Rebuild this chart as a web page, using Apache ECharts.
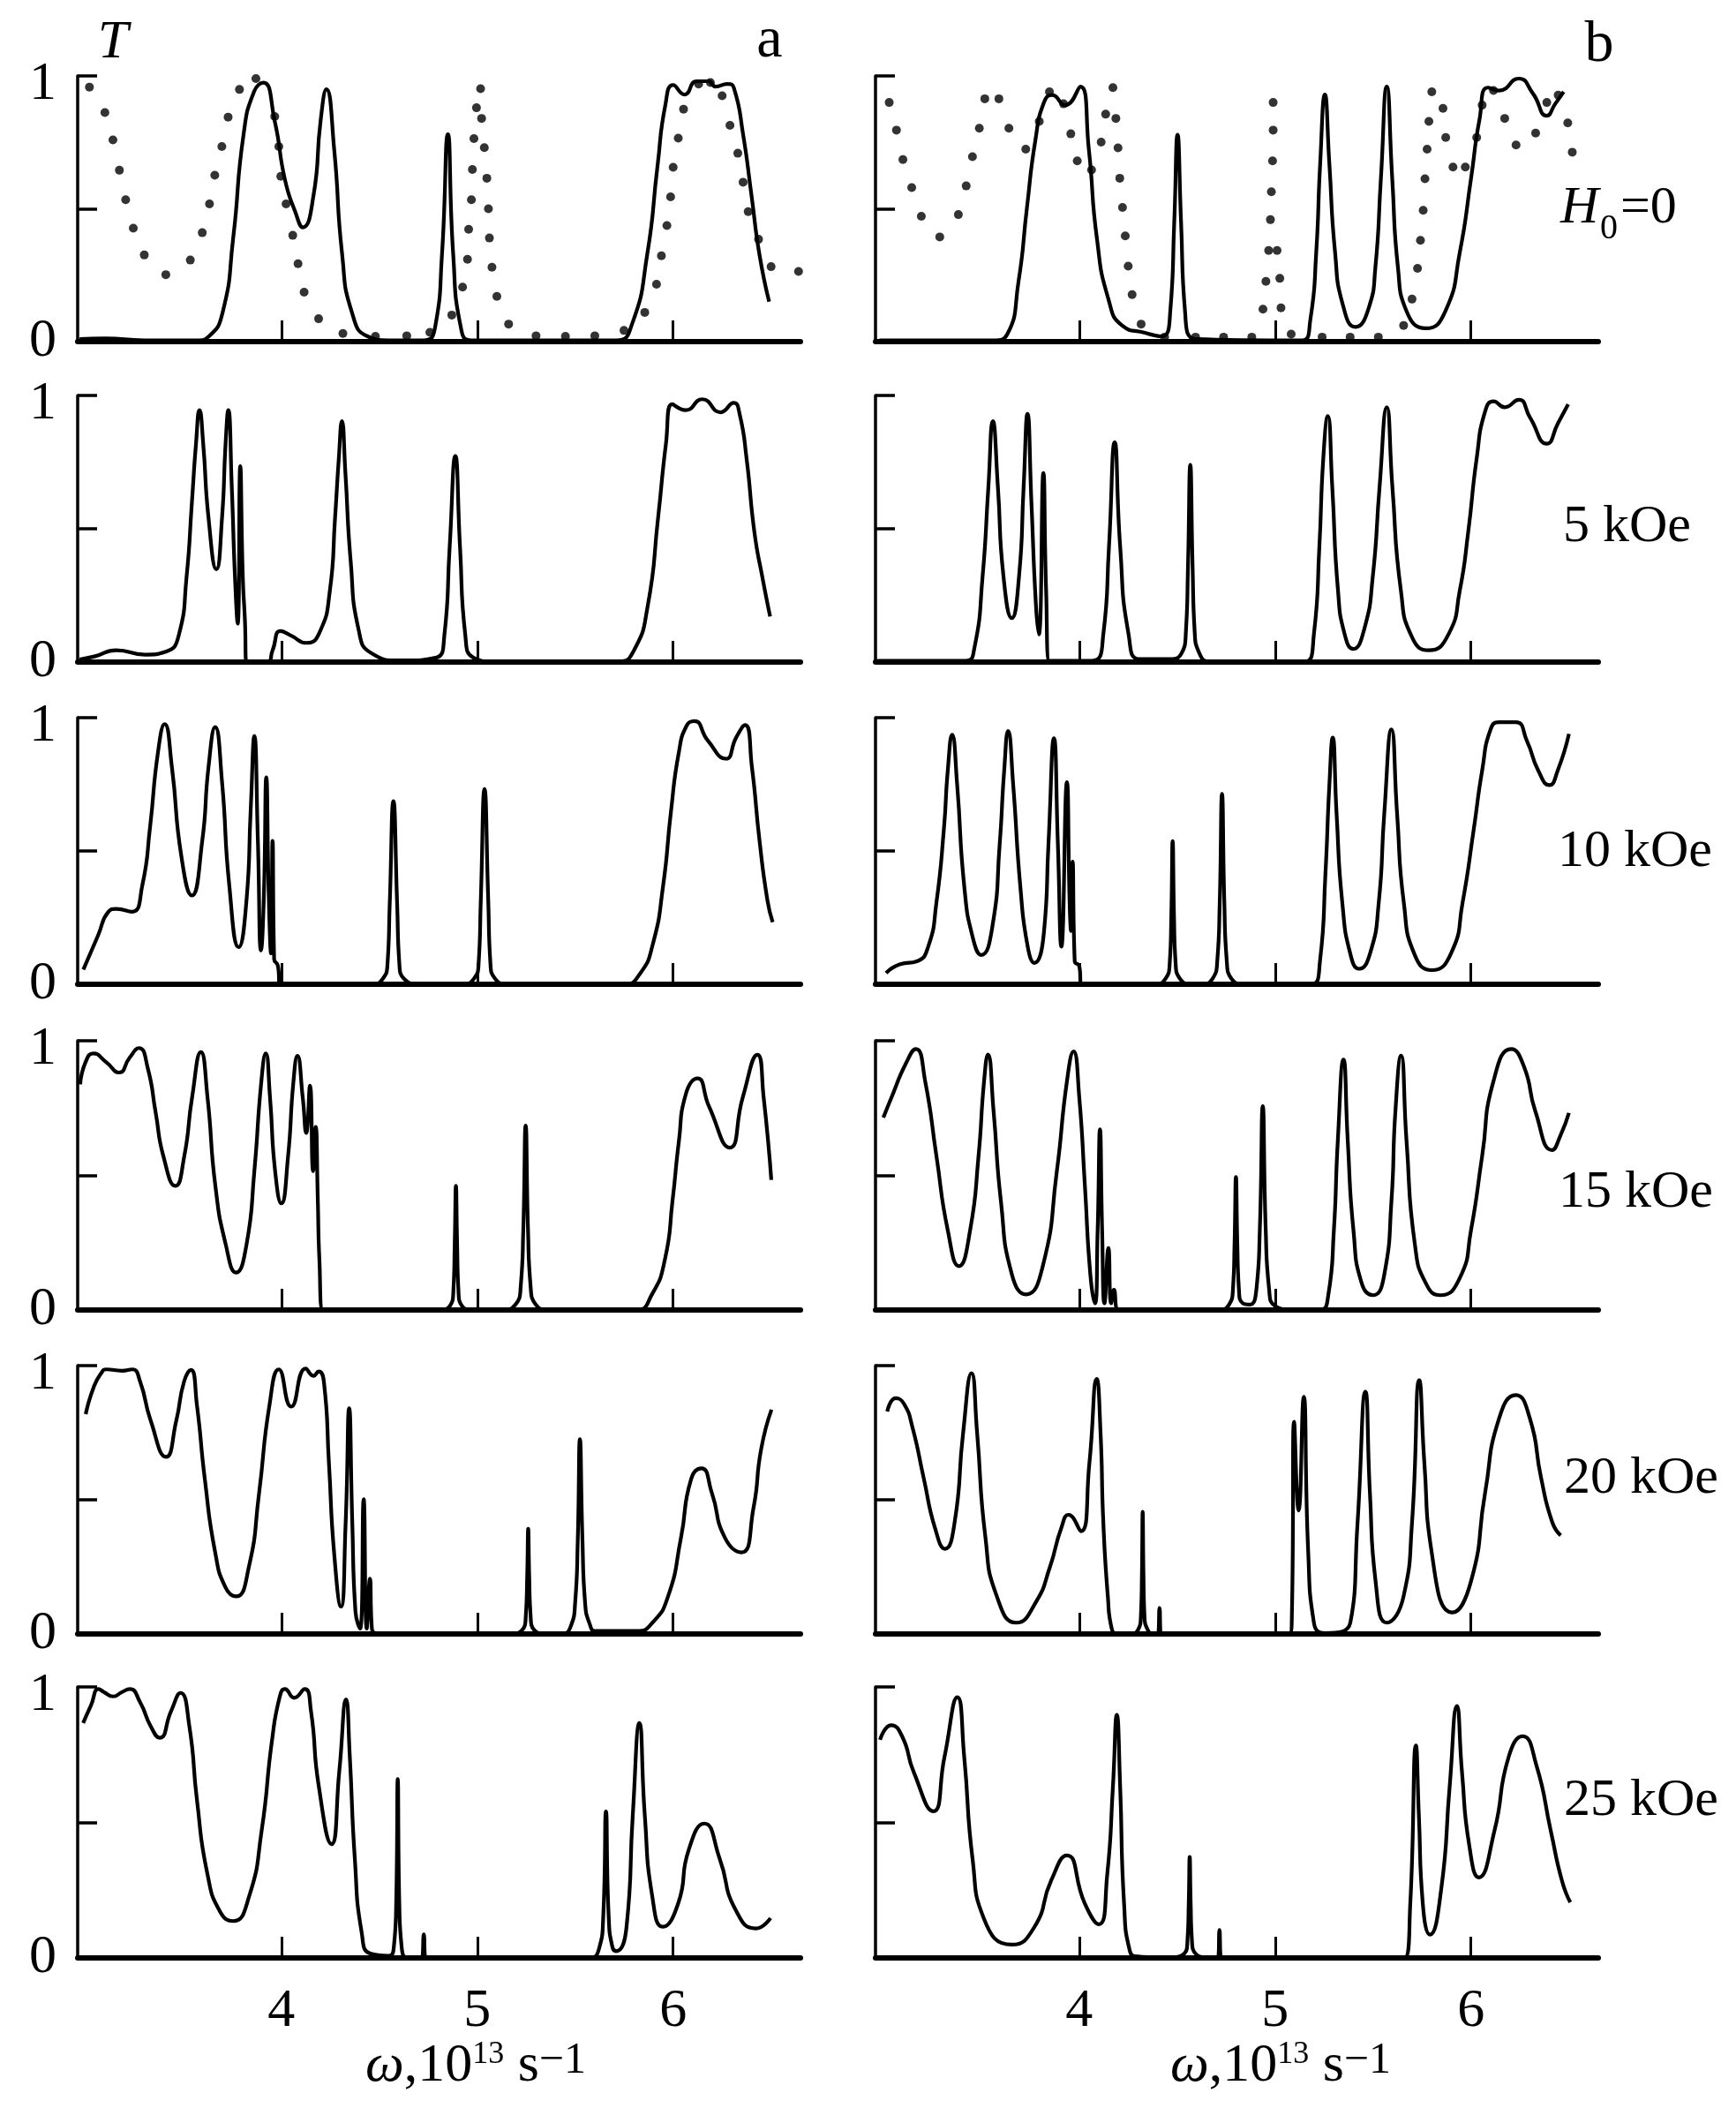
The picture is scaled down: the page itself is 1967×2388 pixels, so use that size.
<!DOCTYPE html>
<html>
<head>
<meta charset="utf-8">
<title>Transmission spectra T(omega)</title>
<script src="https://cdn.jsdelivr.net/npm/echarts@6/dist/echarts.min.js"></script>
<style>
  html, body { margin: 0; padding: 0; background: #fff; }
  #chart { width: 1967px; height: 2388px; }
</style>
</head>
<body>
<div id="chart"></div>
<script>
// omega (10^13 s^-1) vs transmission T
const fieldLabels = ['5 kOe', '10 kOe', '15 kOe', '20 kOe', '25 kOe'];
const xTicks = [4, 5, 6];
const yTicks = [0.5, 1];
const yTickLabels = [0, 1];

// column a, H0 = 0
const a0 = [[2.97,0.01],[3.1,0.012],[3.3,0.005],[3.57,0.005],[3.63,0.02],[3.70,0.11],[3.754,0.39],[3.807,0.78],[3.86,0.94],[3.908,0.975],[3.966,0.83],[4.018,0.61],[4.07,0.49],[4.11,0.43],[4.164,0.55],[4.20,0.83],[4.23,0.95],[4.27,0.72],[4.31,0.33],[4.36,0.11],[4.44,0.02],[4.55,0.005],[4.73,0.005],[4.785,0.055],[4.82,0.33],[4.85,0.78],[4.877,0.33],[4.917,0.05],[4.97,0.005],[5.71,0.005],[5.79,0.066],[5.868,0.33],[5.92,0.66],[5.96,0.89],[6.0,0.966],[6.058,0.93],[6.12,0.98],[6.18,0.98],[6.216,0.96],[6.277,0.97],[6.31,0.955],[6.357,0.78],[6.40,0.55],[6.44,0.33],[6.49,0.15]];
const a0dots = [[3.02,0.958],[3.099,0.862],[3.14,0.759],[3.173,0.645],[3.205,0.534],[3.244,0.427],[3.30,0.326],[3.41,0.252],[3.535,0.307],[3.596,0.41],[3.633,0.518],[3.66,0.626],[3.696,0.734],[3.728,0.845],[3.786,0.949],[3.87,0.99],[3.966,0.847],[3.987,0.734],[3.997,0.622],[4.024,0.518],[4.058,0.40],[4.085,0.293],[4.116,0.186],[4.19,0.086],[4.314,0.031],[4.48,0.02],[4.64,0.022],[4.758,0.035],[4.87,0.10],[4.925,0.205],[4.95,0.31],[4.956,0.423],[4.97,0.534],[4.975,0.648],[4.983,0.764],[4.996,0.88],[5.017,0.952],[5.022,0.84],[5.036,0.73],[5.049,0.615],[5.057,0.50],[5.062,0.39],[5.075,0.28],[5.10,0.17],[5.16,0.066],[5.30,0.022],[5.45,0.02],[5.60,0.022],[5.749,0.042],[5.855,0.11],[5.915,0.216],[5.94,0.323],[5.968,0.437],[5.987,0.545],[6.0,0.656],[6.026,0.766],[6.053,0.875],[6.13,0.969],[6.19,0.975],[6.25,0.925],[6.29,0.814],[6.33,0.709],[6.357,0.60],[6.383,0.489],[6.436,0.385],[6.50,0.282],[6.64,0.264]];
const a5 = [[2.97,0.01],[3.05,0.022],[3.157,0.044],[3.303,0.028],[3.41,0.039],[3.476,0.10],[3.516,0.32],[3.543,0.597],[3.564,0.818],[3.582,0.945],[3.601,0.818],[3.628,0.541],[3.668,0.348],[3.697,0.541],[3.715,0.818],[3.729,0.945],[3.747,0.652],[3.763,0.32],[3.777,0.144],[3.79,0.735],[3.803,0.32],[3.814,0.155],[3.822,0.0],[3.928,0.0],[3.955,0.044],[3.995,0.116],[4.048,0.10],[4.128,0.072],[4.194,0.11],[4.247,0.265],[4.274,0.541],[4.293,0.762],[4.309,0.904],[4.327,0.707],[4.354,0.376],[4.394,0.122],[4.46,0.033],[4.606,0.006],[4.793,0.017],[4.832,0.10],[4.859,0.431],[4.888,0.773],[4.912,0.431],[4.939,0.10],[4.979,0.017],[5.085,0.002],[5.72,0.002],[5.80,0.044],[5.87,0.21],[5.923,0.541],[5.963,0.818],[5.995,0.967],[6.064,0.945],[6.149,0.986],[6.242,0.937],[6.309,0.972],[6.34,0.928],[6.375,0.762],[6.415,0.486],[6.455,0.32],[6.495,0.171]];
const a10 = [[2.989,0.055],[3.064,0.183],[3.117,0.272],[3.157,0.283],[3.237,0.272],[3.29,0.371],[3.33,0.593],[3.37,0.87],[3.404,0.976],[3.441,0.815],[3.489,0.482],[3.543,0.333],[3.596,0.538],[3.628,0.815],[3.662,0.965],[3.697,0.759],[3.734,0.371],[3.782,0.139],[3.822,0.316],[3.843,0.649],[3.862,0.931],[3.88,0.538],[3.896,0.127],[3.91,0.316],[3.923,0.776],[3.936,0.316],[3.947,0.116],[3.955,0.538],[3.963,0.094],[3.981,0.072],[3.995,0.0],[4.46,0.0],[4.517,0.02],[4.542,0.08],[4.553,0.3],[4.572,0.687],[4.591,0.3],[4.602,0.08],[4.627,0.02],[4.713,0.0],[4.92,0.0],[4.982,0.02],[5.007,0.08],[5.018,0.316],[5.037,0.732],[5.056,0.316],[5.067,0.08],[5.092,0.02],[5.16,0.0],[5.75,0.0],[5.83,0.039],[5.896,0.15],[5.949,0.371],[5.989,0.649],[6.029,0.87],[6.069,0.97],[6.109,0.987],[6.176,0.915],[6.269,0.846],[6.322,0.926],[6.367,0.972],[6.402,0.815],[6.441,0.538],[6.481,0.316],[6.508,0.233]];
const a15 = [[2.973,0.838],[3.0,0.92],[3.04,0.953],[3.106,0.92],[3.172,0.882],[3.225,0.937],[3.273,0.973],[3.318,0.898],[3.358,0.734],[3.398,0.57],[3.459,0.461],[3.504,0.57],[3.544,0.789],[3.589,0.958],[3.623,0.789],[3.663,0.461],[3.716,0.243],[3.769,0.139],[3.822,0.243],[3.862,0.516],[3.897,0.844],[3.92,0.953],[3.942,0.789],[3.968,0.516],[4.0,0.396],[4.034,0.57],[4.061,0.844],[4.082,0.944],[4.109,0.789],[4.127,0.658],[4.146,0.833],[4.162,0.516],[4.175,0.68],[4.186,0.407],[4.194,0.188],[4.212,0.0],[4.80,0.0],[4.86,0.015],[4.878,0.07],[4.885,0.25],[4.891,0.461],[4.897,0.25],[4.904,0.07],[4.922,0.015],[4.98,0.0],[5.12,0.0],[5.195,0.02],[5.222,0.09],[5.235,0.3],[5.247,0.685],[5.259,0.3],[5.272,0.09],[5.299,0.02],[5.37,0.0],[5.812,0.0],[5.891,0.057],[5.958,0.188],[5.997,0.407],[6.029,0.625],[6.064,0.80],[6.125,0.86],[6.183,0.756],[6.289,0.603],[6.355,0.789],[6.43,0.948],[6.462,0.789],[6.501,0.483]];
const a20 = [[3.001,0.819],[3.041,0.918],[3.081,0.973],[3.107,0.986],[3.186,0.981],[3.239,0.986],[3.279,0.94],[3.332,0.797],[3.411,0.66],[3.464,0.797],[3.503,0.94],[3.538,0.984],[3.569,0.852],[3.609,0.578],[3.662,0.304],[3.715,0.173],[3.768,0.14],[3.834,0.25],[3.886,0.524],[3.939,0.852],[3.987,0.986],[4.05,0.847],[4.124,0.989],[4.164,0.962],[4.19,0.978],[4.217,0.94],[4.243,0.633],[4.269,0.304],[4.304,0.102],[4.328,0.414],[4.346,0.841],[4.362,0.414],[4.378,0.085],[4.402,0.02],[4.42,0.502],[4.436,0.02],[4.452,0.206],[4.462,0.02],[4.494,0.003],[5.16,0.0],[5.23,0.015],[5.248,0.07],[5.255,0.22],[5.26,0.392],[5.265,0.22],[5.272,0.07],[5.29,0.015],[5.36,0.0],[5.43,0.0],[5.478,0.03],[5.5,0.12],[5.513,0.35],[5.524,0.726],[5.537,0.35],[5.55,0.12],[5.575,0.035],[5.604,0.011],[5.815,0.011],[5.894,0.042],[5.974,0.14],[6.04,0.359],[6.092,0.578],[6.145,0.617],[6.198,0.524],[6.264,0.359],[6.349,0.304],[6.41,0.469],[6.449,0.688],[6.502,0.836]];
const a25 = [[2.988,0.867],[3.028,0.932],[3.067,0.992],[3.094,0.981],[3.141,0.965],[3.186,0.981],[3.226,0.992],[3.279,0.943],[3.332,0.856],[3.379,0.812],[3.437,0.911],[3.485,0.978],[3.53,0.856],[3.569,0.583],[3.622,0.311],[3.688,0.169],[3.754,0.136],[3.834,0.224],[3.90,0.474],[3.952,0.802],[3.992,0.965],[4.018,0.992],[4.066,0.96],[4.119,0.992],[4.151,0.911],[4.19,0.638],[4.256,0.42],[4.296,0.692],[4.33,0.954],[4.349,0.747],[4.375,0.365],[4.41,0.093],[4.454,0.016],[4.547,0.008],[4.574,0.04],[4.586,0.2],[4.594,0.66],[4.602,0.2],[4.614,0.04],[4.645,0.0],[4.716,0.0],[4.727,0.087],[4.737,0.0],[5.57,0.0],[5.62,0.03],[5.643,0.15],[5.657,0.54],[5.671,0.15],[5.69,0.04],[5.709,0.025],[5.762,0.115],[5.794,0.529],[5.828,0.867],[5.855,0.529],[5.894,0.224],[5.947,0.115],[6.026,0.202],[6.079,0.398],[6.159,0.496],[6.238,0.365],[6.317,0.18],[6.423,0.109],[6.497,0.147]];

// column b
const b0 = [[2.98,0.005],[3.56,0.005],[3.633,0.028],[3.69,0.226],[3.733,0.503],[3.776,0.757],[3.82,0.90],[3.862,0.928],[3.928,0.89],[4.006,0.96],[4.049,0.724],[4.09,0.39],[4.149,0.16],[4.22,0.06],[4.336,0.033],[4.42,0.02],[4.465,0.116],[4.485,0.447],[4.502,0.779],[4.52,0.447],[4.54,0.116],[4.594,0.01],[5.14,0.005],[5.18,0.083],[5.21,0.337],[5.23,0.669],[5.254,0.93],[5.277,0.669],[5.306,0.337],[5.346,0.138],[5.41,0.055],[5.478,0.127],[5.512,0.28],[5.54,0.613],[5.57,0.96],[5.598,0.613],[5.627,0.28],[5.67,0.116],[5.77,0.05],[5.87,0.116],[5.943,0.337],[6.0,0.613],[6.043,0.834],[6.086,0.956],[6.143,0.945],[6.244,0.99],[6.316,0.934],[6.387,0.85],[6.43,0.895],[6.473,0.94]];
const b0dots = [[3.03,0.90],[3.067,0.796],[3.10,0.685],[3.145,0.58],[3.194,0.472],[3.288,0.394],[3.383,0.478],[3.423,0.586],[3.455,0.696],[3.49,0.803],[3.518,0.914],[3.59,0.914],[3.641,0.803],[3.727,0.724],[3.796,0.829],[3.848,0.94],[3.92,0.895],[3.957,0.782],[3.99,0.68],[4.063,0.646],[4.112,0.751],[4.135,0.856],[4.172,0.956],[4.187,0.84],[4.198,0.729],[4.207,0.615],[4.221,0.505],[4.235,0.398],[4.25,0.284],[4.27,0.177],[4.316,0.066],[4.436,0.017],[4.594,0.017],[4.737,0.017],[4.881,0.017],[4.938,0.122],[4.953,0.227],[4.967,0.343],[4.976,0.459],[4.981,0.564],[4.987,0.68],[4.99,0.796],[4.99,0.90],[5.03,0.127],[5.024,0.238],[5.01,0.343],[5.082,0.028],[5.24,0.017],[5.383,0.017],[5.527,0.017],[5.656,0.061],[5.699,0.16],[5.727,0.276],[5.742,0.381],[5.756,0.494],[5.765,0.613],[5.776,0.724],[5.785,0.829],[5.8,0.94],[5.857,0.878],[5.871,0.768],[5.908,0.657],[5.971,0.657],[6.029,0.768],[6.057,0.89],[6.115,0.945],[6.172,0.84],[6.23,0.74],[6.33,0.785],[6.387,0.90],[6.445,0.928],[6.494,0.823],[6.517,0.713]];
const b5 = [[2.97,0.005],[3.421,0.005],[3.464,0.049],[3.507,0.324],[3.536,0.654],[3.559,0.904],[3.585,0.654],[3.613,0.324],[3.656,0.165],[3.693,0.324],[3.716,0.654],[3.736,0.931],[3.756,0.599],[3.779,0.214],[3.794,0.104],[3.817,0.709],[3.831,0.269],[3.848,0.005],[4.066,0.005],[4.123,0.104],[4.152,0.434],[4.181,0.824],[4.209,0.434],[4.252,0.104],[4.309,0.011],[4.45,0.011],[4.52,0.03],[4.545,0.12],[4.555,0.35],[4.567,0.74],[4.579,0.35],[4.589,0.12],[4.615,0.03],[4.668,0.002],[5.155,0.002],[5.198,0.104],[5.226,0.434],[5.246,0.764],[5.269,0.923],[5.292,0.654],[5.321,0.269],[5.355,0.104],[5.398,0.049],[5.456,0.126],[5.499,0.324],[5.533,0.654],[5.57,0.956],[5.599,0.654],[5.642,0.269],[5.699,0.093],[5.785,0.044],[5.885,0.104],[5.943,0.269],[5.986,0.489],[6.029,0.764],[6.072,0.94],[6.115,0.978],[6.172,0.956],[6.244,0.984],[6.301,0.918],[6.387,0.819],[6.444,0.896],[6.496,0.967]];
const b10 = [[3.014,0.042],[3.086,0.075],[3.171,0.086],[3.229,0.141],[3.271,0.306],[3.309,0.581],[3.329,0.802],[3.351,0.936],[3.377,0.747],[3.414,0.361],[3.457,0.174],[3.50,0.11],[3.557,0.218],[3.594,0.526],[3.617,0.802],[3.637,0.95],[3.663,0.747],[3.70,0.361],[3.737,0.141],[3.771,0.08],[3.82,0.196],[3.843,0.526],[3.871,0.923],[3.891,0.526],[3.909,0.141],[3.937,0.758],[3.951,0.306],[3.958,0.2],[3.966,0.46],[3.977,0.086],[4.0,0.069],[4.011,0.0],[4.38,0.0],[4.44,0.02],[4.462,0.08],[4.47,0.25],[4.477,0.537],[4.484,0.25],[4.492,0.08],[4.515,0.02],[4.58,0.0],[4.62,0.0],[4.68,0.02],[4.705,0.09],[4.717,0.3],[4.729,0.714],[4.741,0.3],[4.753,0.09],[4.778,0.02],[4.85,0.0],[5.186,0.0],[5.229,0.086],[5.257,0.416],[5.277,0.747],[5.294,0.925],[5.314,0.637],[5.343,0.306],[5.386,0.108],[5.429,0.058],[5.486,0.119],[5.529,0.306],[5.557,0.637],[5.594,0.956],[5.623,0.637],[5.657,0.306],[5.714,0.108],[5.80,0.053],[5.90,0.119],[5.957,0.306],[6.014,0.581],[6.057,0.802],[6.10,0.956],[6.143,0.983],[6.229,0.983],[6.286,0.912],[6.343,0.802],[6.40,0.747],[6.443,0.802],[6.50,0.939]];
const b15 = [[3.0,0.715],[3.043,0.792],[3.114,0.914],[3.166,0.969],[3.214,0.848],[3.271,0.572],[3.329,0.296],[3.386,0.163],[3.443,0.296],[3.486,0.572],[3.514,0.848],[3.534,0.949],[3.563,0.737],[3.60,0.406],[3.657,0.13],[3.729,0.058],[3.814,0.163],[3.886,0.517],[3.937,0.848],[3.971,0.96],[4.0,0.792],[4.029,0.461],[4.057,0.13],[4.08,0.025],[4.094,0.296],[4.106,0.671],[4.117,0.296],[4.129,0.025],[4.149,0.23],[4.163,0.025],[4.177,0.075],[4.20,0.0],[4.70,0.0],[4.765,0.02],[4.785,0.08],[4.793,0.25],[4.80,0.494],[4.807,0.25],[4.815,0.08],[4.835,0.025],[4.87,0.02],[4.905,0.08],[4.922,0.3],[4.937,0.757],[4.952,0.3],[4.969,0.08],[5.0,0.015],[5.1,0.0],[5.229,0.0],[5.271,0.053],[5.30,0.296],[5.32,0.627],[5.349,0.93],[5.371,0.627],[5.40,0.296],[5.443,0.097],[5.50,0.055],[5.557,0.13],[5.594,0.406],[5.614,0.737],[5.643,0.945],[5.671,0.627],[5.714,0.241],[5.771,0.097],[5.843,0.055],[5.943,0.119],[6.0,0.296],[6.057,0.572],[6.114,0.848],[6.206,0.969],[6.271,0.903],[6.329,0.737],[6.414,0.594],[6.457,0.649],[6.50,0.732]];
const b20 = [[3.02,0.829],[3.063,0.879],[3.106,0.857],[3.149,0.769],[3.206,0.581],[3.264,0.394],[3.315,0.317],[3.364,0.416],[3.407,0.747],[3.45,0.972],[3.479,0.747],[3.521,0.361],[3.579,0.141],[3.679,0.042],[3.779,0.119],[3.851,0.251],[3.908,0.394],[3.946,0.444],[4.009,0.383],[4.052,0.637],[4.089,0.95],[4.109,0.747],[4.123,0.416],[4.146,0.141],[4.166,0.02],[4.195,0.0],[4.25,0.0],[4.3,0.015],[4.315,0.07],[4.32,0.22],[4.324,0.455],[4.328,0.22],[4.333,0.07],[4.35,0.015],[4.38,0.0],[4.401,0.0],[4.41,0.097],[4.418,0.0],[5.074,0.0],[5.086,0.086],[5.097,0.791],[5.12,0.46],[5.146,0.884],[5.169,0.306],[5.198,0.042],[5.255,0.003],[5.384,0.042],[5.421,0.416],[5.461,0.903],[5.484,0.526],[5.513,0.196],[5.57,0.042],[5.656,0.141],[5.699,0.416],[5.736,0.945],[5.762,0.637],[5.799,0.306],[5.905,0.08],[6.0,0.196],[6.072,0.526],[6.143,0.802],[6.229,0.89],[6.301,0.802],[6.358,0.581],[6.415,0.416],[6.458,0.367]];
const b25 = [[2.983,0.805],[3.04,0.859],[3.097,0.816],[3.155,0.686],[3.255,0.541],[3.312,0.741],[3.378,0.962],[3.413,0.741],[3.456,0.362],[3.513,0.146],[3.656,0.049],[3.771,0.114],[3.857,0.286],[3.937,0.378],[4.029,0.20],[4.10,0.124],[4.143,0.308],[4.172,0.632],[4.192,0.897],[4.209,0.632],[4.229,0.20],[4.258,0.027],[4.301,0.005],[4.45,0.002],[4.535,0.015],[4.553,0.07],[4.559,0.2],[4.564,0.373],[4.569,0.2],[4.575,0.07],[4.595,0.015],[4.66,0.002],[4.708,0.002],[4.716,0.103],[4.725,0.002],[5.662,0.002],[5.69,0.20],[5.719,0.784],[5.734,0.524],[5.754,0.20],[5.791,0.086],[5.848,0.254],[5.891,0.632],[5.928,0.93],[5.954,0.686],[5.991,0.416],[6.04,0.297],[6.12,0.47],[6.192,0.741],[6.264,0.818],[6.335,0.708],[6.407,0.47],[6.464,0.286],[6.507,0.205]];

const curves = [[a0, a5, a10, a15, a20, a25], [b0, b5, b10, b15, b20, b25]];
const dots = [a0dots, b0dots];

// layout (pixels)
const rowTop = [86, 448, 813, 1179, 1547, 1911];
const rowBottom = [387, 750, 1115, 1484, 1851, 2218];
const colLeft = [88, 992];
const colWidth = 819;
const serif = '"Liberation Serif", "DejaVu Serif", serif';

const grid = [], xAxis = [], yAxis = [], series = [];
for (let c = 0; c < 2; c++) {
  for (let r = 0; r < 6; r++) {
    const i = grid.length;
    grid.push({ left: colLeft[c], top: rowTop[r], width: colWidth, height: rowBottom[r] - rowTop[r] });
    xAxis.push({
      gridIndex: i, type: 'value', min: 2.96, max: 6.65,
      axisLine: { lineStyle: { color: '#000', width: 6 } },
      axisTick: { customValues: xTicks, inside: true, length: 24, lineStyle: { color: '#000', width: 3 } },
      axisLabel: { show: r === 5, customValues: xTicks, margin: 30, color: '#000', fontSize: 62, fontFamily: serif },
      splitLine: { show: false }
    });
    yAxis.push({
      gridIndex: i, type: 'value', min: 0, max: 1,
      axisLine: { show: true, lineStyle: { color: '#000', width: 3.5 } },
      axisTick: { customValues: yTicks, inside: true, length: 22, lineStyle: { color: '#000', width: 3.5 } },
      axisLabel: {
        show: c === 0, customValues: yTickLabels, margin: 24, color: '#000', fontSize: 62, fontFamily: serif,
        formatter: v => (v === 1 ? '{one|1}' : '0'),
        rich: { one: { fontSize: 62, fontFamily: serif, padding: [20, 0, 0, 0] } }
      },
      splitLine: { show: false }
    });
    series.push({
      type: 'line', xAxisIndex: i, yAxisIndex: i, data: curves[c][r],
      showSymbol: false, smooth: 0.55,
      lineStyle: { color: '#000', width: 4.2, join: 'round' }
    });
    if (r === 0) {
      series.push({
        type: 'scatter', xAxisIndex: i, yAxisIndex: i, data: dots[c],
        symbol: 'circle', symbolSize: 10, itemStyle: { color: '#000' }
      });
    }
  }
}

const labelPos = [[1771, 597], [1765, 965], [1766, 1351], [1772, 1675], [1772, 2040]];
const txt = (x, y, text, size, extra) => ({
  type: 'text', x: x, y: y,
  style: Object.assign({ text: text, fill: '#000', font: size + 'px ' + serif, textAlign: 'left', textVerticalAlign: 'middle' }, extra || {})
});

const graphic = [
  txt(128, 49, 'T', 62, { font: 'italic 62px ' + serif, textAlign: 'center' }),
  txt(872, 47, 'a', 66, { textAlign: 'center' }),
  txt(1812, 52, 'b', 66, { textAlign: 'center' }),
  txt(1768, 236, 'H', 60, { font: 'italic 60px ' + serif }),
  txt(1813, 259, '0', 40),
  txt(1836, 236, '=0', 60)
];
fieldLabels.forEach((s, k) => graphic.push(txt(labelPos[k][0], labelPos[k][1], s, 60)));
[539, 1451].forEach(cx => graphic.push({
  type: 'text', x: cx, y: 2341,
  style: {
    text: '{w|ω},10{s|13} s{m|−1}',
    fill: '#000', font: '62px ' + serif, textAlign: 'center', textVerticalAlign: 'middle',
    rich: {
      w: { fontSize: 62, fontFamily: serif, fontStyle: 'italic', lineHeight: 62 },
      s: { fontSize: 36, fontFamily: serif, verticalAlign: 'top', lineHeight: 36 },
      m: { fontSize: 50, fontFamily: serif, verticalAlign: 'top', lineHeight: 46 }
    }
  }
}));

const chart = echarts.init(document.getElementById('chart'), null, { renderer: 'canvas' });
chart.setOption({
  animation: false,
  backgroundColor: '#fff',
  grid: grid,
  xAxis: xAxis,
  yAxis: yAxis,
  series: series,
  graphic: graphic
});
</script>
</body>
</html>
